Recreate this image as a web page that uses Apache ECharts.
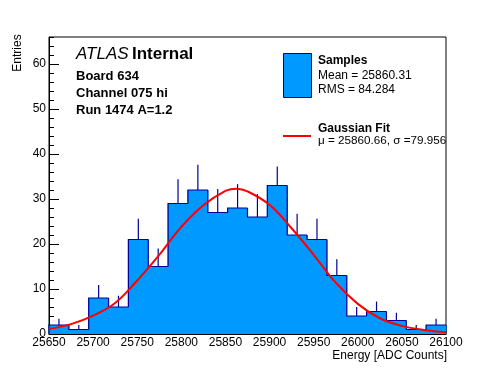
<!DOCTYPE html>
<html><head><meta charset="utf-8">
<script src="https://cdn.jsdelivr.net/npm/echarts@6/dist/echarts.min.js"></script>
<style>html,body{margin:0;padding:0;background:#fff}#c{width:496px;height:372px}</style>
</head><body><div id="c"></div>
<script>
// Histogram bins (edges) and counts
const binEdges = [25650, 25672.5, 25695, 25717.5, 25740, 25762.5, 25785, 25807.5, 25830, 25852.5,
  25875, 25897.5, 25920, 25942.5, 25965, 25987.5, 26010, 26032.5, 26055, 26077.5, 26100];
const counts = [2, 1, 8, 6, 21, 15, 29, 32, 27, 28, 26, 33, 22, 21, 13, 4, 5, 3, 1, 2];
// top of the visible error bar for each bin
const errTop = [3.4, 2.0, 10.9, 8.5, 25.6, 19.0, 34.4, 37.6, 32.2, 33.3, 31.1, 37.2, 26.7, 25.6, 16.6, 6.0, 7.2, 4.7, 2.0, 3.4];
// Gaussian fit curve
const fitX = [25650, 25675, 25700, 25725, 25750, 25775, 25800, 25825, 25850, 25862.5, 25875, 25900, 25925, 25950, 25975, 26000, 26025, 26050, 26075, 26100];
const fitY = [1.1, 2.2, 4.1, 6.9, 11.9, 17.6, 23.8, 28.6, 31.8, 32.3, 31.7, 28.7, 23.5, 17.6, 11.4, 6.7, 3.5, 1.8, 0.9, 0.4];
const xTicks = [25650, 25700, 25750, 25800, 25850, 25900, 25950, 26000, 26050, 26100];
const yTicks = [0, 10, 20, 30, 40, 50, 60];

const FILL = '#0099ff', EDGE = '#000099';
const FONT = '"Liberation Sans", Arial, Helvetica, sans-serif';

const binData = counts.map((c, i) => [binEdges[i], binEdges[i + 1], c, i > 0 ? counts[i - 1] : 0, errTop[i]]);

const chart = echarts.init(document.getElementById('c'), null, {renderer: 'canvas'});
chart.setOption({
  animation: false,
  backgroundColor: '#fff',
  grid: {left: 49, right: 50, top: 37, bottom: 38, show: true, borderColor: '#000', borderWidth: 1, backgroundColor: 'transparent'},
  xAxis: {
    type: 'value', min: xTicks[0], max: xTicks[xTicks.length - 1], interval: 50,
    axisLine: {lineStyle: {color: '#000', width: 1}},
    axisTick: {inside: true, length: 9, lineStyle: {color: '#000'}},
    minorTick: {show: true, splitNumber: 5, length: 4.5, lineStyle: {color: '#000'}},
    splitLine: {show: false},
    axisLabel: {color: '#000', fontSize: 12, fontFamily: FONT, margin: 3, formatter: v => String(v)}
  },
  yAxis: [{
    type: 'value', min: 0, max: 66, interval: 2,
    axisLine: {lineStyle: {color: '#000', width: 1}},
    axisTick: {inside: true, length: 5, lineStyle: {color: '#000'}},
    axisLabel: {show: false}, splitLine: {show: false}
  }, {
    type: 'value', min: 0, max: 66, interval: 10, position: 'left',
    axisLine: {show: false},
    axisTick: {inside: true, length: 10, lineStyle: {color: '#000'}},
    axisLabel: {color: '#000', fontSize: 12, fontFamily: FONT, margin: 3, showMaxLabel: false,
      formatter: v => (yTicks.indexOf(v) >= 0 ? String(v) : '')},
    splitLine: {show: false}
  }],
  series: [{
    type: 'custom', yAxisIndex: 0, data: binData, z: 2,
    renderItem: (params, api) => {
      const p0 = api.coord([api.value(0), 0]);
      const p1 = api.coord([api.value(1), api.value(2)]);
      return {type: 'rect', shape: {x: p0[0] - 0.5, y: p1[1], width: p1[0] - p0[0] + 1, height: p0[1] - p1[1]},
        style: {fill: FILL, stroke: null}};
    }
  }, {
    type: 'custom', yAxisIndex: 0, data: binData, z: 3,
    renderItem: (params, api) => {
      const lo = api.value(0), hi = api.value(1), c = api.value(2), prev = api.value(3), et = api.value(4);
      const a = api.coord([lo, prev]), b = api.coord([lo, c]), d = api.coord([hi, c]);
      const m0 = api.coord([(lo + hi) / 2, c]), m1 = api.coord([(lo + hi) / 2, et]);
      return {type: 'group', children: [
        {type: 'polyline', shape: {points: [a, b, d]}, style: {stroke: EDGE, lineWidth: 1.2, fill: null}},
        {type: 'line', shape: {x1: m0[0], y1: m0[1], x2: m1[0], y2: m1[1]}, style: {stroke: EDGE, lineWidth: 1.2}}
      ]};
    }
  }, {
    type: 'line', yAxisIndex: 0, data: fitX.map((x, i) => [x, fitY[i]]), smooth: 0.4,
    showSymbol: false, z: 4, lineStyle: {color: '#ff0000', width: 2}
  }],
  graphic: [
    {type: 'text', left: 76, top: 46, style: {text: '{a|ATLAS} {b|Internal}', fill: '#000',
      rich: {a: {fontSize: 17, fontStyle: 'italic', fontFamily: FONT, fill: '#000'},
             b: {fontSize: 17, fontWeight: 'bold', fontFamily: FONT, fill: '#000'}}}},
    {type: 'text', x: 76, y: 76, style: {text: 'Board 634', font: 'bold 13px ' + FONT, fill: '#000', verticalAlign: 'middle'}},
    {type: 'text', x: 76, y: 93, style: {text: 'Channel 075 hi', font: 'bold 13px ' + FONT, fill: '#000', verticalAlign: 'middle'}},
    {type: 'text', x: 76, y: 110, style: {text: 'Run 1474 A=1.2', font: 'bold 13px ' + FONT, fill: '#000', verticalAlign: 'middle'}},
    {type: 'rect', shape: {x: 283.5, y: 53.5, width: 28, height: 44}, style: {fill: FILL, stroke: EDGE, lineWidth: 1}},
    {type: 'text', x: 318, y: 61, style: {text: 'Samples', font: 'bold 12px ' + FONT, fill: '#000', verticalAlign: 'middle'}},
    {type: 'text', x: 318, y: 76, style: {text: 'Mean = 25860.31', font: '12px ' + FONT, fill: '#000', verticalAlign: 'middle'}},
    {type: 'text', x: 318, y: 90, style: {text: 'RMS = 84.284', font: '12px ' + FONT, fill: '#000', verticalAlign: 'middle'}},
    {type: 'line', shape: {x1: 283, y1: 136, x2: 311, y2: 136}, style: {stroke: '#ff0000', lineWidth: 2}},
    {type: 'text', x: 318, y: 129, style: {text: 'Gaussian Fit', font: 'bold 12px ' + FONT, fill: '#000', verticalAlign: 'middle'}},
    {type: 'text', x: 318, y: 141, style: {text: 'μ = 25860.66, σ =79.956', font: '11.7px ' + FONT, fill: '#000', verticalAlign: 'middle'}},
    {type: 'text', x: 18, y: 53, rotation: Math.PI / 2, style: {text: 'Entries', font: '12px ' + FONT, fill: '#000', align: 'center', verticalAlign: 'middle'}},
    {type: 'text', x: 447, y: 356, style: {text: 'Energy [ADC Counts]', font: '12px ' + FONT, fill: '#000', align: 'right', verticalAlign: 'middle'}}
  ]
});
</script></body></html>
